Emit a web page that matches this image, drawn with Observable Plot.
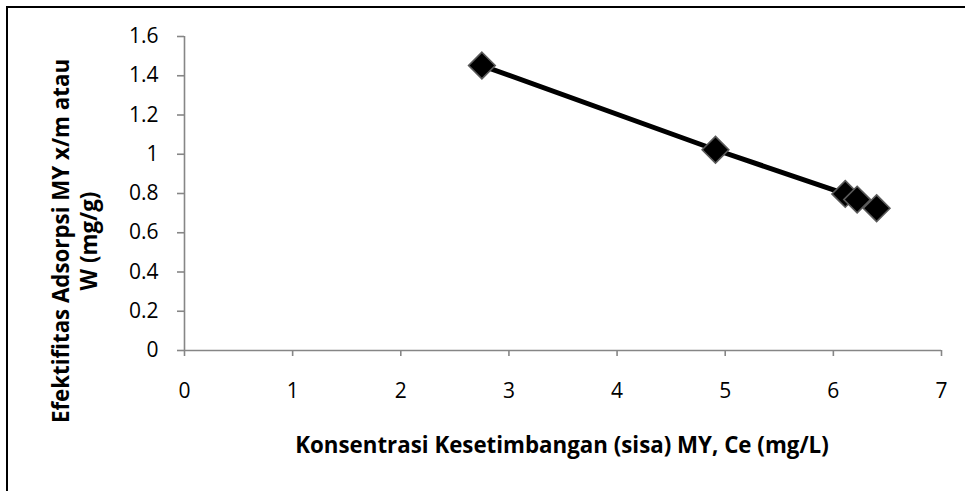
<!DOCTYPE html>
<html>
<head>
<meta charset="utf-8">
<script src="https://cdn.jsdelivr.net/npm/d3@7"></script>
<script src="https://cdn.jsdelivr.net/npm/@observablehq/plot@0.6"></script>
<style>
  html, body { margin: 0; padding: 0; background: #fff; }
  #wrap { position: relative; width: 965px; height: 491px; overflow: hidden; background: #fff; }
  #border { position: absolute; left: 6px; top: 6px; width: 1000px; height: 1000px; border: 2.5px solid #000; box-sizing: border-box; pointer-events: none; }
</style>
</head>
<body>
<div id="wrap"><div id="chart"></div><div id="border"></div></div>
<script>
// Data
const ce = [2.75, 4.91, 6.11, 6.22, 6.40];          // Konsentrasi Kesetimbangan (mg/L)
const w  = [1.452, 1.023, 0.798, 0.769, 0.725];     // x/m (mg/g)
const lineCount = 3;                                 // line joins first three points
const xTicks = [0, 1, 2, 3, 4, 5, 6, 7];
const yTicks = [0, 0.2, 0.4, 0.6, 0.8, 1, 1.2, 1.4, 1.6];
const xTitle = "Konsentrasi Kesetimbangan (sisa) MY, Ce (mg/L)";
const yTitleLines = ["Efektifitas Adsorpsi MY x/m atau", "W (mg/g)"];

const points = ce.map((c, i) => ({x: c, y: w[i]}));
const linePts = points.slice(0, lineCount);
const axisGray = "#868686";
const fmt = d => String(Math.round(d * 10) / 10);

const plot = Plot.plot({
  width: 965,
  height: 491,
  marginLeft: 184,
  marginRight: 24,
  marginTop: 36,
  marginBottom: 141,
  style: {fontFamily: "'Open Sans', sans-serif", fontSize: "21px", background: "transparent", color: "#000"},
  x: {domain: [0, 7]},
  y: {domain: [0, 1.6]},
  marks: [
    Plot.axisX({ticks: xTicks, tickSize: 6, tickPadding: 27, stroke: axisGray, strokeWidth: 1.6, strokeOpacity: 1, label: null, tickFormat: fmt}),
    Plot.axisY({ticks: yTicks, tickSize: 7, tickPadding: 19, stroke: axisGray, strokeWidth: 1.6, strokeOpacity: 1, label: null, tickFormat: fmt}),
    Plot.ruleX([0], {stroke: axisGray, strokeWidth: 1.6}),
    Plot.ruleY([0], {stroke: axisGray, strokeWidth: 1.6}),
    Plot.line(linePts, {x: "x", y: "y", stroke: "#000", strokeWidth: 5}),
    Plot.dot(points, {x: "x", y: "y", symbol: "diamond2", r: 12, fill: "#000", stroke: "#5a5a5a", strokeWidth: 1.6})
  ]
});
document.getElementById("chart").appendChild(plot);

const svg = d3.select(plot);
svg.append("text")
  .attr("x", 562).attr("y", 453)
  .attr("text-anchor", "middle")
  .attr("font-weight", "bold")
  .attr("font-size", "22.3px")
  .attr("fill", "#000")
  .text(xTitle);

const yBaselines = [69, 97];
yTitleLines.forEach((t, i) => {
  svg.append("text")
    .attr("transform", `translate(${yBaselines[i]},241) rotate(-90)`)
    .attr("text-anchor", "middle")
    .attr("font-weight", "bold")
    .attr("font-size", "22.3px")
    .attr("fill", "#000")
    .text(t);
});
</script>
</body>
</html>
